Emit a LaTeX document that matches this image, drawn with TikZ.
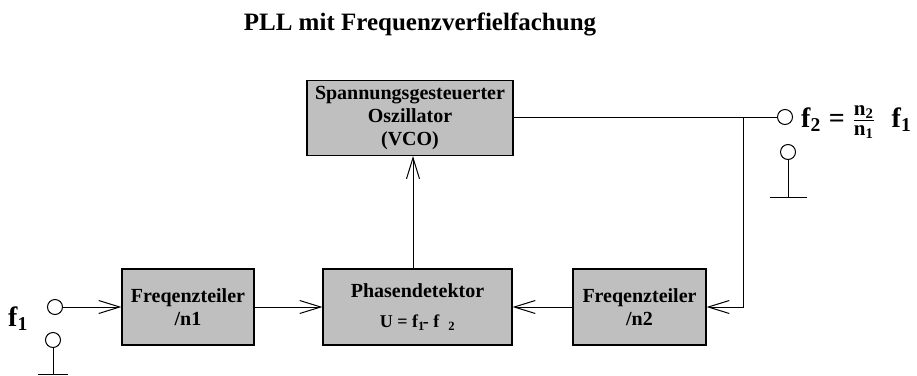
\documentclass[tikz,border=0pt]{standalone}
\usepackage{fontspec}
\setmainfont{Liberation Serif}
\usepackage{amsmath}
\usetikzlibrary{arrows.meta,positioning}
\tikzset{
  block/.style={draw, line width=1.2pt, fill=black!25, align=center, inner sep=0pt,
    font=\fontsize{20}{23}\selectfont\bfseries},
  port/.style={draw, circle, line width=1pt, fill=white, minimum size=15pt, inner sep=0pt},
  label/.style={font=\fontsize{28}{30}\selectfont\bfseries, inner sep=0pt},
  wire/.style={line width=1pt},
  arrow/.style={wire, -{Straight Barb[length=21pt,width=13pt,line width=1pt]}}
}
\newcommand{\fracpart}[1]{\text{\fontsize{21}{21}\selectfont n\textsubscript{#1}}}

\begin{document}
\begin{tikzpicture}[x=1pt,y=-1pt]
    \useasboundingbox (0,0) rectangle (917,375);
    % Title
    \node[font=\fontsize{25}{28}\selectfont\bfseries] (title) at (420,24) {PLL mit Frequenzverfielfachung};
    % Blocks
    \node[block, minimum width=206pt, minimum height=75pt] (vco) at (410,118) {Spannungsgesteuerter\\Oszillator\\(VCO)};
    \node[block, minimum width=189pt, minimum height=76pt] (pd) at (417.5,307)
      {Phasendetektor\\[7pt]{\fontsize{18}{20}\selectfont U = f\textsubscript{1}\kern-2pt- f\hspace{9pt}\textsubscript{2}}};
    \node[block, minimum width=132pt, minimum height=76pt] (div1) at (188,307) {Freqenzteiler\\/n1};
    \node[block, minimum width=133pt, minimum height=76pt] (div2) at (639.5,307) {Freqenzteiler\\/n2};
    % Input
    \node[port] (in) at (55,307) {};
    \node[port] (ingnd) at (53,340) {};
    \coordinate (ingndb) at (53,374);
    \draw[wire] (ingnd) -- (ingndb);
    \draw[wire] ([xshift=-15pt]ingndb) -- ([xshift=15pt]ingndb);
    \node[label, anchor=base west] (f1) at (8,326) {f\textsubscript{1}};
    % Output
    \node[port] (out) at (785,117) {};
    \node[port] (outgnd) at (788,152) {};
    \coordinate (outgndb) at (788,197);
    \draw[wire] (outgnd) -- (outgndb);
    \draw[wire] ([xshift=-18pt]outgndb) -- ([xshift=19pt]outgndb);
    \node[label, anchor=base west] (f2) at (801,127)
      {f\textsubscript{2}\hspace{8pt}=\hspace{8pt}$\genfrac{}{}{1.2pt}{1}{\fracpart{2}}{\fracpart{1}}$\hspace{17pt}f\textsubscript{1}};
    % Signal path
    \draw[arrow] (in) -- (div1);
    \draw[arrow] (div1) -- (pd);
    \draw[arrow] ([xshift=-4.5pt]pd.north) -- ([xshift=-4.5pt]pd.north |- vco.south);
    \draw[wire] (vco.east |- out) -- (out);
    \coordinate (tap) at (743,117);
    \draw[arrow] (tap) |- (div2.east);
    \draw[arrow] (div2) -- (pd);
\end{tikzpicture}
\end{document}
